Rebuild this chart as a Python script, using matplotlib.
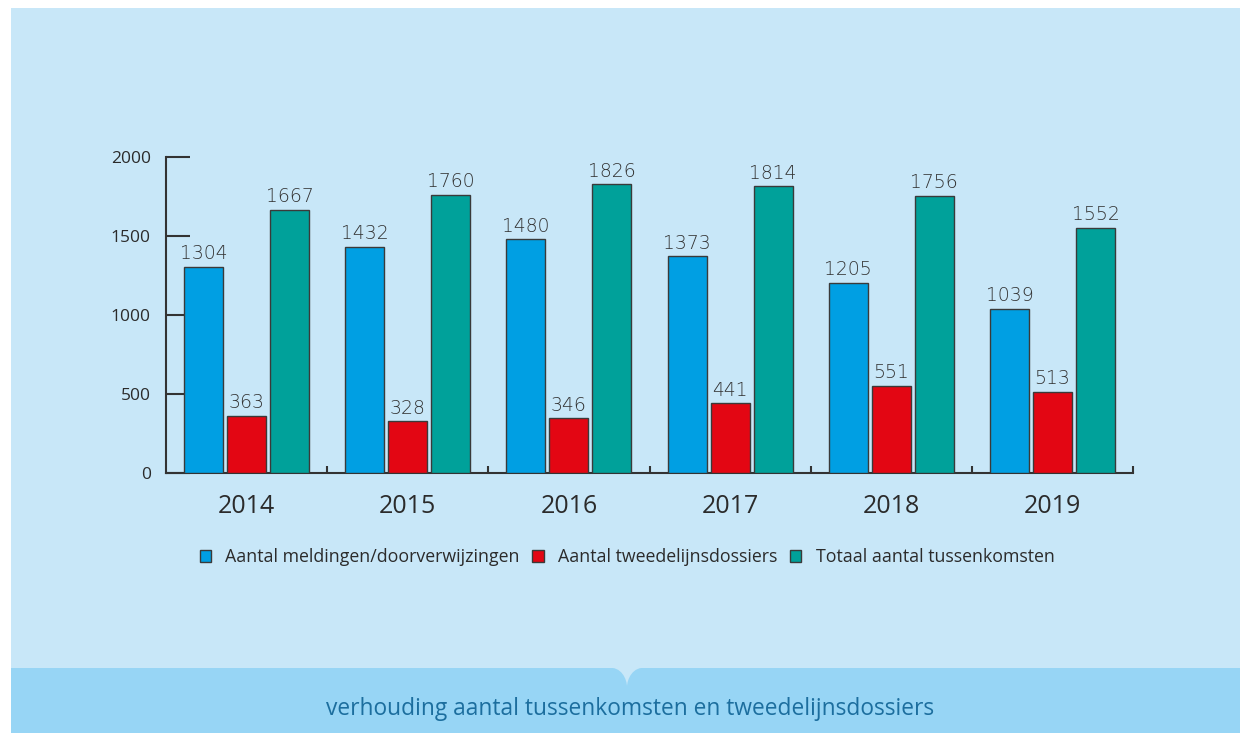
import matplotlib
matplotlib.use("Agg")
import matplotlib.pyplot as plt
import numpy as np
from matplotlib.patches import Rectangle, Patch, PathPatch
from matplotlib.path import Path

years = ["2014", "2015", "2016", "2017", "2018", "2019"]
meldingen = [1304, 1432, 1480, 1373, 1205, 1039]
tweedelijns = [363, 328, 346, 441, 551, 513]
totaal = [1667, 1760, 1826, 1814, 1756, 1552]
series_names = ["Aantal meldingen/doorverwijzingen", "Aantal tweedelijnsdossiers",
                "Totaal aantal tussenkomsten"]
title = "verhouding aantal tussenkomsten en tweedelijnsdossiers"
yticks = [0, 500, 1000, 1500, 2000]

colors = ["#009FE3", "#E30613", "#00A19A"]
edge = "#3a3a3a"
bg = "#C8E7F8"
band = "#97D5F5"
text_dark = "#2b2b2b"

W, H = 1240, 733
fig = plt.figure(figsize=(W / 100, H / 100), dpi=100)
fig.patch.set_facecolor("white")

# backgrounds
fig.patches.append(Rectangle((11 / W, 0), 1 - 11 / W, 1 - 8 / H, transform=fig.transFigure,
                             facecolor=bg, edgecolor="none", zorder=-10))
fig.patches.append(Rectangle((11 / W, 0), 1 - 11 / W, (H - 668) / H, transform=fig.transFigure,
                             facecolor=band, edgecolor="none", zorder=-9))
# notch (drop shape)
cx, top, tip, hw = 627, 668, 687, 19
verts = [(cx - hw, top), (cx - 6, top - 2), (cx, tip - 8), (cx, tip),
         (cx, tip - 8), (cx + 6, top - 2), (cx + hw, top), (cx - hw, top)]
verts = [(x / W, 1 - y / H) for x, y in verts]
codes = [Path.MOVETO, Path.CURVE4, Path.CURVE4, Path.CURVE4,
         Path.CURVE4, Path.CURVE4, Path.CURVE4, Path.CLOSEPOLY]
fig.patches.append(PathPatch(Path(verts, codes), transform=fig.transFigure,
                             facecolor=bg, edgecolor="none", zorder=-8))

ax_l, ax_r, ax_b, ax_t = 166, 1133, 473, 157
ax = fig.add_axes([ax_l / W, 1 - ax_b / H, (ax_r - ax_l) / W, (ax_b - ax_t) / H])
ax.set_facecolor("none")

x = np.arange(len(years))
bw = 0.242
off = 0.267
for i, (vals, c) in enumerate(zip([meldingen, tweedelijns, totaal], colors)):
    xs = x + (i - 1) * off
    ax.bar(xs, vals, width=bw, color=c, edgecolor=edge, linewidth=1.0, zorder=3)
    for xi, v in zip(xs, vals):
        ax.annotate(f"{v}", (xi, v), xytext=(0, 2.5), textcoords="offset points",
                    ha="center", va="bottom", fontsize=13.5, color="#333333",
                    family="DejaVu Sans", fontweight="light")

ax.set_xlim(-0.5, len(years) - 0.5)
ax.set_ylim(0, 2000)
ax.set_yticks(yticks)
ax.set_yticklabels([str(t) for t in yticks], fontsize=12.5, color=text_dark, family="Open Sans")
ax.tick_params(axis="y", direction="in", length=17.3, width=1.5, color="#333333", pad=11)
ax.set_xticks(x)
ax.set_xticklabels(years, fontsize=18, color=text_dark, family="Open Sans")
ax.tick_params(axis="x", which="major", length=0, pad=15)
ax.set_xticks(np.arange(len(years)) + 0.5, minor=True)
ax.tick_params(axis="x", which="minor", direction="in", length=5, width=1.5, color="#333333")

for s in ["top", "right"]:
    ax.spines[s].set_visible(False)
for s in ["left", "bottom"]:
    ax.spines[s].set_linewidth(1.5)
    ax.spines[s].set_color("#333333")

handles = [Patch(facecolor=c, edgecolor=edge, linewidth=1.0) for c in colors]
fig.legend(handles, series_names, loc="center", bbox_to_anchor=(627 / W, 1 - 557 / H),
           ncol=3, frameon=False, handlelength=0.65, handleheight=0.65,
           handletextpad=0.8, columnspacing=0.7,
           prop={"family": "Open Sans", "size": 12.8})
for t in fig.legends[0].get_texts():
    t.set_color(text_dark)

fig.text(630 / W, 1 - 709 / H, title, ha="center", va="center", fontsize=16.4,
         color="#1C6E9E", family="Open Sans")

fig.savefig("out.png", dpi=100, facecolor=fig.get_facecolor())
